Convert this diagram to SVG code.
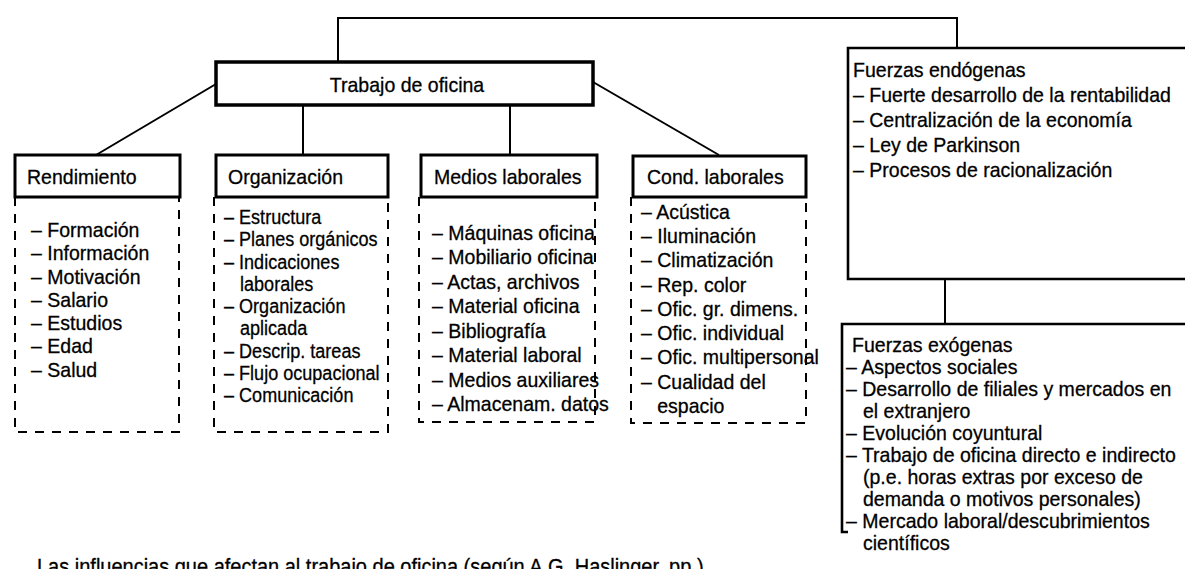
<svg xmlns="http://www.w3.org/2000/svg" width="1185" height="569" viewBox="0 0 1185 569">
<style>
.box{fill:#fff;stroke:#000;stroke-width:3.5}
.hdr{fill:#fff;stroke:#000;stroke-width:3}
.dash{fill:none;stroke:#000;stroke-width:2;stroke-dasharray:9 8}
.conn{fill:none;stroke:#000;stroke-width:2}
.side{fill:none;stroke:#000;stroke-width:2.6}
.t{font-family:"Liberation Sans",Arial,sans-serif;font-size:21px;fill:#000;stroke:#000;stroke-width:0.3}
</style>
<rect width="1185" height="569" fill="#fff"/>
<g id="connectors">
<path class="conn" d="M338,62 V18 H957 V48"/>
<path class="conn" d="M216,84 L96,155"/>
<path class="conn" d="M303,105 V155"/>
<path class="conn" d="M510,105 V155"/>
<path class="conn" d="M593,82 L719,155"/>
<path class="conn" d="M945,279 V324"/>
</g>
<g id="trabajo">
<rect class="box" x="216" y="62" width="377" height="43"/>
<text class="t" text-anchor="middle" transform="translate(407,92) scale(0.93,1)">Trabajo de oficina</text>
</g>
<g id="rendimiento">
<path class="dash" d="M15,197 V432 H179 V197"/>
<rect class="hdr" x="15" y="155" width="165" height="42"/>
<text class="t" transform="translate(27,184) scale(0.93,1)">Rendimiento</text>
<text class="t" transform="translate(31,237) scale(0.93,1)"><tspan x="0" y="0">– Formación</tspan><tspan x="0" y="23.3">– Información</tspan><tspan x="0" y="46.6">– Motivación</tspan><tspan x="0" y="69.9">– Salario</tspan><tspan x="0" y="93.2">– Estudios</tspan><tspan x="0" y="116.5">– Edad</tspan><tspan x="0" y="139.8">– Salud</tspan></text>
</g>
<g id="organizacion">
<path class="dash" d="M214,197 V432 H388 V197"/>
<rect class="hdr" x="216" y="155" width="172" height="42"/>
<text class="t" transform="translate(228,184) scale(0.93,1)">Organización</text>
<text class="t" transform="translate(224,224) scale(0.86,1)"><tspan x="0" y="0">– Estructura</tspan><tspan x="0" y="22.3">– Planes orgánicos</tspan><tspan x="0" y="44.6">– Indicaciones</tspan><tspan x="18.6" y="66.9">laborales</tspan><tspan x="0" y="89.2">– Organización</tspan><tspan x="18.6" y="111.5">aplicada</tspan><tspan x="0" y="133.8">– Descrip. tareas</tspan><tspan x="0" y="156.1">– Flujo ocupacional</tspan><tspan x="0" y="178.4">– Comunicación</tspan></text>
</g>
<g id="medios">
<path class="dash" d="M419,197 V422 H595 V197"/>
<rect class="hdr" x="421" y="155" width="176" height="42"/>
<text class="t" transform="translate(434,184) scale(0.93,1)">Medios laborales</text>
<text class="t" transform="translate(432,240) scale(0.93,1)"><tspan x="0" y="0">– Máquinas oficina</tspan><tspan x="0" y="24.5">– Mobiliario oficina</tspan><tspan x="0" y="49">– Actas, archivos</tspan><tspan x="0" y="73.5">– Material oficina</tspan><tspan x="0" y="98">– Bibliografía</tspan><tspan x="0" y="122.5">– Material laboral</tspan><tspan x="0" y="147">– Medios auxiliares</tspan><tspan x="0" y="171.5">– Almacenam. datos</tspan></text>
</g>
<g id="condiciones">
<path class="dash" d="M631,197 V423 H806 V197"/>
<rect class="hdr" x="633" y="156" width="173" height="41"/>
<text class="t" transform="translate(647,184) scale(0.93,1)">Cond. laborales</text>
<text class="t" transform="translate(641,219) scale(0.93,1)"><tspan x="0" y="0">– Acústica</tspan><tspan x="0" y="24.25">– Iluminación</tspan><tspan x="0" y="48.5">– Climatización</tspan><tspan x="0" y="72.75">– Rep. color</tspan><tspan x="0" y="97">– Ofic. gr. dimens.</tspan><tspan x="0" y="121.25">– Ofic. individual</tspan><tspan x="0" y="145.5">– Ofic. multipersonal</tspan><tspan x="0" y="169.75">– Cualidad del</tspan><tspan x="17.4" y="194">espacio</tspan></text>
</g>
<g id="endogenas">
<path class="side" d="M1185,48 H848 V279 H1185"/>
<text class="t" transform="translate(853,77) scale(0.93,1)"><tspan x="0" y="0">Fuerzas endógenas</tspan><tspan x="0" y="25">– Fuerte desarrollo de la rentabilidad</tspan><tspan x="0" y="50">– Centralización de la economía</tspan><tspan x="0" y="75">– Ley de Parkinson</tspan><tspan x="0" y="100">– Procesos de racionalización</tspan></text>
</g>
<g id="exogenas">
<path class="side" d="M1185,324 H842 V532 H848"/>
<text class="t" transform="translate(846,352) scale(0.93,1)"><tspan x="6.5" y="0">Fuerzas exógenas</tspan><tspan x="0" y="22">– Aspectos sociales</tspan><tspan x="0" y="44">– Desarrollo de filiales y mercados en</tspan><tspan x="18.3" y="66">el extranjero</tspan><tspan x="0" y="88">– Evolución coyuntural</tspan><tspan x="0" y="110">– Trabajo de oficina directo e indirecto</tspan><tspan x="18.3" y="132">(p.e. horas extras por exceso de</tspan><tspan x="18.3" y="154">demanda o motivos personales)</tspan><tspan x="0" y="176">– Mercado laboral/descubrimientos</tspan><tspan x="18.3" y="198">científicos</tspan></text>
</g>
<g id="caption">
<text class="t" style="font-size:21.5px" transform="translate(37,574) scale(0.93,1)">Las influencias que afectan al trabajo de oficina (según A.G. Haslinger, pp.)</text>
</g>
</svg>
